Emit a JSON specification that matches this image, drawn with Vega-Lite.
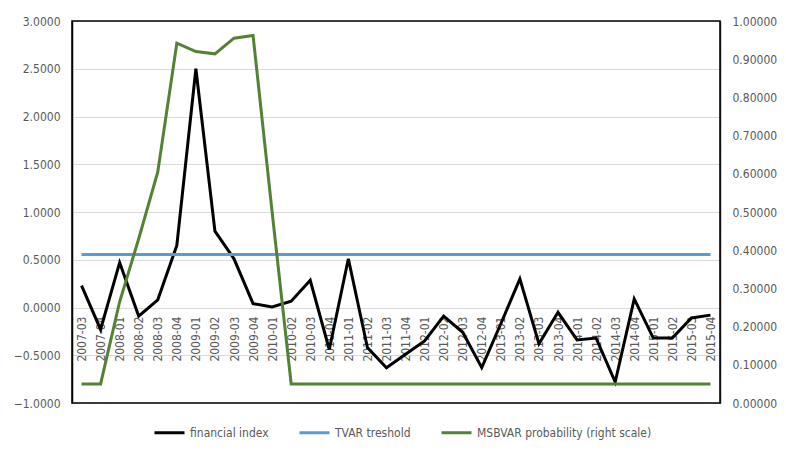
{
  "$schema": "https://vega.github.io/schema/vega-lite/v6.json",
  "width": 648,
  "height": 382,
  "autosize": {"type": "none"},
  "padding": {"left": 72, "top": 21, "right": 66, "bottom": 50},
  "background": "white",
  "config": {
    "font": "DejaVu Sans Condensed",
    "axis": {"labelColor": "#595959", "labelFontSize": 12, "labelFont": "DejaVu Sans Condensed"},
    "legend": {"labelFont": "DejaVu Sans Condensed"}
  },
  "data": {
    "values": [
      {"q": "2007-03", "fi": 0.23, "tvar": 0.555, "ms": 0.05},
      {"q": "2007-04", "fi": -0.23, "tvar": 0.555, "ms": 0.05},
      {"q": "2008-01", "fi": 0.47, "tvar": 0.555, "ms": 0.265},
      {"q": "2008-02", "fi": -0.09, "tvar": 0.555, "ms": 0.43},
      {"q": "2008-03", "fi": 0.08, "tvar": 0.555, "ms": 0.605},
      {"q": "2008-04", "fi": 0.65, "tvar": 0.555, "ms": 0.942},
      {"q": "2009-01", "fi": 2.50, "tvar": 0.555, "ms": 0.92},
      {"q": "2009-02", "fi": 0.80, "tvar": 0.555, "ms": 0.914},
      {"q": "2009-03", "fi": 0.51, "tvar": 0.555, "ms": 0.955},
      {"q": "2009-04", "fi": 0.04, "tvar": 0.555, "ms": 0.962},
      {"q": "2010-01", "fi": 0.005, "tvar": 0.555, "ms": 0.50},
      {"q": "2010-02", "fi": 0.065, "tvar": 0.555, "ms": 0.05},
      {"q": "2010-03", "fi": 0.285, "tvar": 0.555, "ms": 0.05},
      {"q": "2010-04", "fi": -0.44, "tvar": 0.555, "ms": 0.05},
      {"q": "2011-01", "fi": 0.51, "tvar": 0.555, "ms": 0.05},
      {"q": "2011-02", "fi": -0.42, "tvar": 0.555, "ms": 0.05},
      {"q": "2011-03", "fi": -0.63, "tvar": 0.555, "ms": 0.05},
      {"q": "2011-04", "fi": -0.49, "tvar": 0.555, "ms": 0.05},
      {"q": "2012-01", "fi": -0.35, "tvar": 0.555, "ms": 0.05},
      {"q": "2012-02", "fi": -0.09, "tvar": 0.555, "ms": 0.05},
      {"q": "2012-03", "fi": -0.26, "tvar": 0.555, "ms": 0.05},
      {"q": "2012-04", "fi": -0.63, "tvar": 0.555, "ms": 0.05},
      {"q": "2013-01", "fi": -0.17, "tvar": 0.555, "ms": 0.05},
      {"q": "2013-02", "fi": 0.30, "tvar": 0.555, "ms": 0.05},
      {"q": "2013-03", "fi": -0.38, "tvar": 0.555, "ms": 0.05},
      {"q": "2013-04", "fi": -0.05, "tvar": 0.555, "ms": 0.05},
      {"q": "2014-01", "fi": -0.34, "tvar": 0.555, "ms": 0.05},
      {"q": "2014-02", "fi": -0.32, "tvar": 0.555, "ms": 0.05},
      {"q": "2014-03", "fi": -0.78, "tvar": 0.555, "ms": 0.05},
      {"q": "2014-04", "fi": 0.09, "tvar": 0.555, "ms": 0.05},
      {"q": "2015-01", "fi": -0.32, "tvar": 0.555, "ms": 0.05},
      {"q": "2015-02", "fi": -0.32, "tvar": 0.555, "ms": 0.05},
      {"q": "2015-03", "fi": -0.11, "tvar": 0.555, "ms": 0.05},
      {"q": "2015-04", "fi": -0.08, "tvar": 0.555, "ms": 0.05}
    ]
  },
  "layer": [
    {
      "layer": [
        {
          "data": {"values": [{"lo": -1, "hi": 3}]},
          "mark": {"type": "rect", "filled": false, "stroke": "#000000", "strokeWidth": 1.5, "strokeOpacity": 1},
          "encoding": {
            "y": {"field": "lo", "type": "quantitative"},
            "y2": {"field": "hi"},
            "color": {"value": "#000000"}
          }
        },
        {
          "mark": {"type": "line", "strokeWidth": 3},
          "encoding": {
            "x": {
              "field": "q",
              "type": "ordinal",
              "sort": null,
              "scale": {"type": "point", "padding": 0.5},
              "axis": {"title": null, "labelAngle": -90, "offset": -95, "labelPadding": 8, "grid": false, "domain": false, "ticks": false}
            },
            "y": {
              "field": "fi",
              "type": "quantitative",
              "scale": {"domain": [-1, 3], "nice": false, "zero": false},
              "axis": {
                "values": [-1, -0.5, 0, 0.5, 1, 1.5, 2, 2.5, 3],
                "format": ".4f",
                "title": null,
                "grid": true,
                "gridColor": "#d9d9d9",
                "ticks": false,
                "domain": true,
                "domainColor": "#000000",
                "domainWidth": 1.5,
                "labelPadding": 12
              }
            },
            "color": {
              "datum": "financial index",
              "scale": {"domain": ["financial index", "TVAR treshold", "MSBVAR probability (right scale)"], "range": ["#000000", "#5B9BD5", "#548235"]},
              "legend": {
                "title": null,
                "orient": "none",
                "legendX": 81,
                "legendY": 395,
                "direction": "horizontal",
                "symbolType": "stroke",
                "symbolStrokeWidth": 3,
                "symbolSize": 900,
                "labelFontSize": 12,
                "labelColor": "#595959",
                "labelLimit": 400,
                "columnPadding": 24
              }
            }
          }
        },
        {
          "mark": {"type": "line", "strokeWidth": 3},
          "encoding": {
            "x": {"field": "q", "type": "ordinal", "sort": null},
            "y": {"field": "tvar", "type": "quantitative"},
            "color": {"datum": "TVAR treshold"}
          }
        }
      ]
    },
    {
      "mark": {"type": "line", "strokeWidth": 3},
      "encoding": {
        "x": {"field": "q", "type": "ordinal", "sort": null},
        "y": {
          "field": "ms",
          "type": "quantitative",
          "scale": {"domain": [0, 1], "nice": false},
          "axis": {
            "orient": "right",
            "values": [0, 0.1, 0.2, 0.3, 0.4, 0.5, 0.6, 0.7, 0.8, 0.9, 1],
            "format": ".5f",
            "title": null,
            "grid": false,
            "ticks": false,
            "domain": true,
            "domainColor": "#404040",
            "domainWidth": 1.5,
            "labelPadding": 12
          }
        },
        "color": {"datum": "MSBVAR probability (right scale)"}
      }
    }
  ],
  "resolve": {"scale": {"y": "independent"}}
}
